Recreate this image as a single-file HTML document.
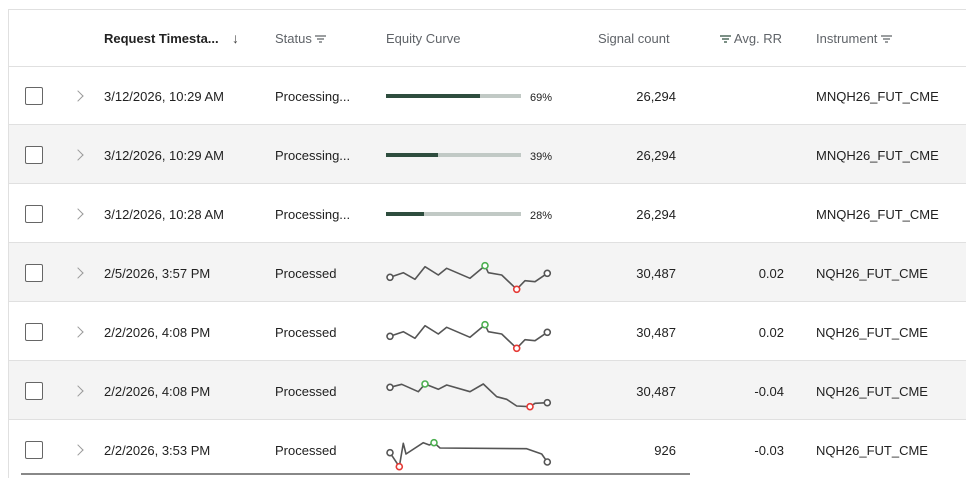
<!DOCTYPE html>
<html><head><meta charset="utf-8"><style>
*{margin:0;padding:0;box-sizing:border-box}
body{width:966px;height:478px;overflow:hidden;background:#fff;font-family:"Liberation Sans",sans-serif;font-size:13px;color:#212121;position:relative}
.t{position:absolute;white-space:nowrap;line-height:16px}
.h{color:#5f6368}
.row{position:absolute;left:9px;right:0;height:59px;border-bottom:1px solid #e0e0e0}
.g{background:#f4f4f4}
.cb{position:absolute;left:25px;width:18px;height:18px;border:1.5px solid #666;border-radius:2px;background:#fff}
.chev{position:absolute;left:74px;width:8px;height:8px;border-right:1.6px solid #999;border-top:1.6px solid #999;transform:rotate(45deg)}
.r{text-align:right}
.bar{position:absolute;left:386px;width:135px;height:4px;background:#c1c9c5}
.bar i{position:absolute;left:0;top:0;height:4px;background:#2e4d3e}
.pc{font-size:11px}
.f{display:inline-block;vertical-align:middle;width:11px;height:8px;margin-top:-2px}
</style></head><body>
<div style="position:absolute;left:8px;top:9px;right:0;height:1px;background:#e0e0e0"></div>
<div style="position:absolute;left:8px;top:9px;width:1px;bottom:0;background:#e0e0e0"></div>
<div class="row" style="top:10px;height:57px"></div>
<div class="t" style="left:104px;top:31px;font-weight:bold;color:#222">Request Timesta...</div>
<div class="t" style="left:232px;top:30px;color:#444;font-size:14px">↓</div>
<div class="t h" style="left:275px;top:31px">Status <svg class="f" viewBox="0 0 11 8"><path d="M0 1H11M2 4H9M4 7H7" stroke="#5f6368" stroke-width="1.3"/></svg></div>
<div class="t h" style="left:386px;top:31px">Equity Curve</div>
<div class="t h" style="left:598px;top:31px">Signal count</div>
<div class="t h" style="left:720px;top:31px"><svg class="f" viewBox="0 0 11 8"><path d="M0 1H11M2 4H9M4 7H7" stroke="#2e4d3e" stroke-width="1.3"/></svg> Avg. RR</div>
<div class="t h" style="left:816px;top:31px">Instrument <svg class="f" viewBox="0 0 11 8"><path d="M0 1H11M2 4H9M4 7H7" stroke="#5f6368" stroke-width="1.3"/></svg></div>

<div class="row" style="top:66px"></div>
<div class="row g" style="top:125px"></div>
<div class="row" style="top:184px"></div>
<div class="row g" style="top:243px"></div>
<div class="row" style="top:302px"></div>
<div class="row g" style="top:361px"></div>
<div class="row" style="top:420px;border:none"></div>

<div class="cb" style="top:87px"></div><div class="chev" style="top:92px"></div>
<div class="cb" style="top:146px"></div><div class="chev" style="top:151px"></div>
<div class="cb" style="top:205px"></div><div class="chev" style="top:210px"></div>
<div class="cb" style="top:264px"></div><div class="chev" style="top:269px"></div>
<div class="cb" style="top:323px"></div><div class="chev" style="top:328px"></div>
<div class="cb" style="top:382px"></div><div class="chev" style="top:387px"></div>
<div class="cb" style="top:441px"></div><div class="chev" style="top:446px"></div>

<div class="t" style="left:104px;top:89px">3/12/2026, 10:29 AM</div>
<div class="t" style="left:104px;top:148px">3/12/2026, 10:29 AM</div>
<div class="t" style="left:104px;top:207px">3/12/2026, 10:28 AM</div>
<div class="t" style="left:104px;top:266px">2/5/2026, 3:57 PM</div>
<div class="t" style="left:104px;top:325px">2/2/2026, 4:08 PM</div>
<div class="t" style="left:104px;top:384px">2/2/2026, 4:08 PM</div>
<div class="t" style="left:104px;top:443px">2/2/2026, 3:53 PM</div>

<div class="t" style="left:275px;top:89px">Processing...</div>
<div class="t" style="left:275px;top:148px">Processing...</div>
<div class="t" style="left:275px;top:207px">Processing...</div>
<div class="t" style="left:275px;top:266px">Processed</div>
<div class="t" style="left:275px;top:325px">Processed</div>
<div class="t" style="left:275px;top:384px">Processed</div>
<div class="t" style="left:275px;top:443px">Processed</div>

<div class="bar" style="top:94px"><i style="width:94px"></i></div><div class="t pc" style="left:530px;top:90px">69%</div>
<div class="bar" style="top:153px"><i style="width:52px"></i></div><div class="t pc" style="left:530px;top:149px">39%</div>
<div class="bar" style="top:212px"><i style="width:38px"></i></div><div class="t pc" style="left:530px;top:208px">28%</div>

<div class="t r" style="left:576px;width:100px;top:89px">26,294</div>
<div class="t r" style="left:576px;width:100px;top:148px">26,294</div>
<div class="t r" style="left:576px;width:100px;top:207px">26,294</div>
<div class="t r" style="left:576px;width:100px;top:266px">30,487</div>
<div class="t r" style="left:576px;width:100px;top:325px">30,487</div>
<div class="t r" style="left:576px;width:100px;top:384px">30,487</div>
<div class="t r" style="left:576px;width:100px;top:443px">926</div>

<div class="t r" style="left:684px;width:100px;top:266px">0.02</div>
<div class="t r" style="left:684px;width:100px;top:325px">0.02</div>
<div class="t r" style="left:684px;width:100px;top:384px">-0.04</div>
<div class="t r" style="left:684px;width:100px;top:443px">-0.03</div>

<div class="t" style="left:816px;top:89px">MNQH26_FUT_CME</div>
<div class="t" style="left:816px;top:148px">MNQH26_FUT_CME</div>
<div class="t" style="left:816px;top:207px">MNQH26_FUT_CME</div>
<div class="t" style="left:816px;top:266px">NQH26_FUT_CME</div>
<div class="t" style="left:816px;top:325px">NQH26_FUT_CME</div>
<div class="t" style="left:816px;top:384px">NQH26_FUT_CME</div>
<div class="t" style="left:816px;top:443px">NQH26_FUT_CME</div>

<svg style="position:absolute;left:0;top:0" width="966" height="478">
<g fill="none" stroke="#555" stroke-width="1.6" stroke-linejoin="round">
<polyline points="390,277.3 403.3,272.7 415,279.3 425,266.7 438.3,275 446.7,268.3 470,278.3 485,265.7 488.3,272.7 501.7,275 516.7,289.3 525,280.7 535,281.7 547.3,273.3"/>
<polyline transform="translate(0,59)" points="390,277.3 403.3,272.7 415,279.3 425,266.7 438.3,275 446.7,268.3 470,278.3 485,265.7 488.3,272.7 501.7,275 516.7,289.3 525,280.7 535,281.7 547.3,273.3"/>
<polyline points="390,387.3 401.7,384.3 418.3,391.7 425,384 438.3,389.3 446.7,385 470,391.7 483.3,384 496.7,396.7 506.7,399.3 516.7,406 530,406.7 535,403.3 547.3,402.7"/>
<polyline points="390,452.7 399.3,466.7 403.3,443.3 406,454 423.3,442.7 429.3,445 434,442.7 440,448 526.7,448.7 541.7,454 547.3,462"/>
</g>
<g fill="#fff" stroke-width="1.6">
<circle cx="390" cy="277.3" r="3" stroke="#555"/><circle cx="485" cy="265.7" r="3" stroke="#4caf50"/><circle cx="516.7" cy="289.3" r="3" stroke="#e53935"/><circle cx="547.3" cy="273.3" r="3" stroke="#555"/>
<circle cx="390" cy="336.3" r="3" stroke="#555"/><circle cx="485" cy="324.7" r="3" stroke="#4caf50"/><circle cx="516.7" cy="348.3" r="3" stroke="#e53935"/><circle cx="547.3" cy="332.3" r="3" stroke="#555"/>
<circle cx="390" cy="387.3" r="3" stroke="#555"/><circle cx="425" cy="384" r="3" stroke="#4caf50"/><circle cx="530" cy="406.7" r="3" stroke="#e53935"/><circle cx="547.3" cy="402.7" r="3" stroke="#555"/>
<circle cx="390" cy="452.7" r="3" stroke="#555"/><circle cx="434" cy="442.7" r="3" stroke="#4caf50"/><circle cx="399.3" cy="466.7" r="3" stroke="#e53935"/><circle cx="547.3" cy="462" r="3" stroke="#555"/>
</g>
</svg>
<div style="position:absolute;left:21px;top:473px;width:669px;height:2px;background:#888"></div>
</body></html>
